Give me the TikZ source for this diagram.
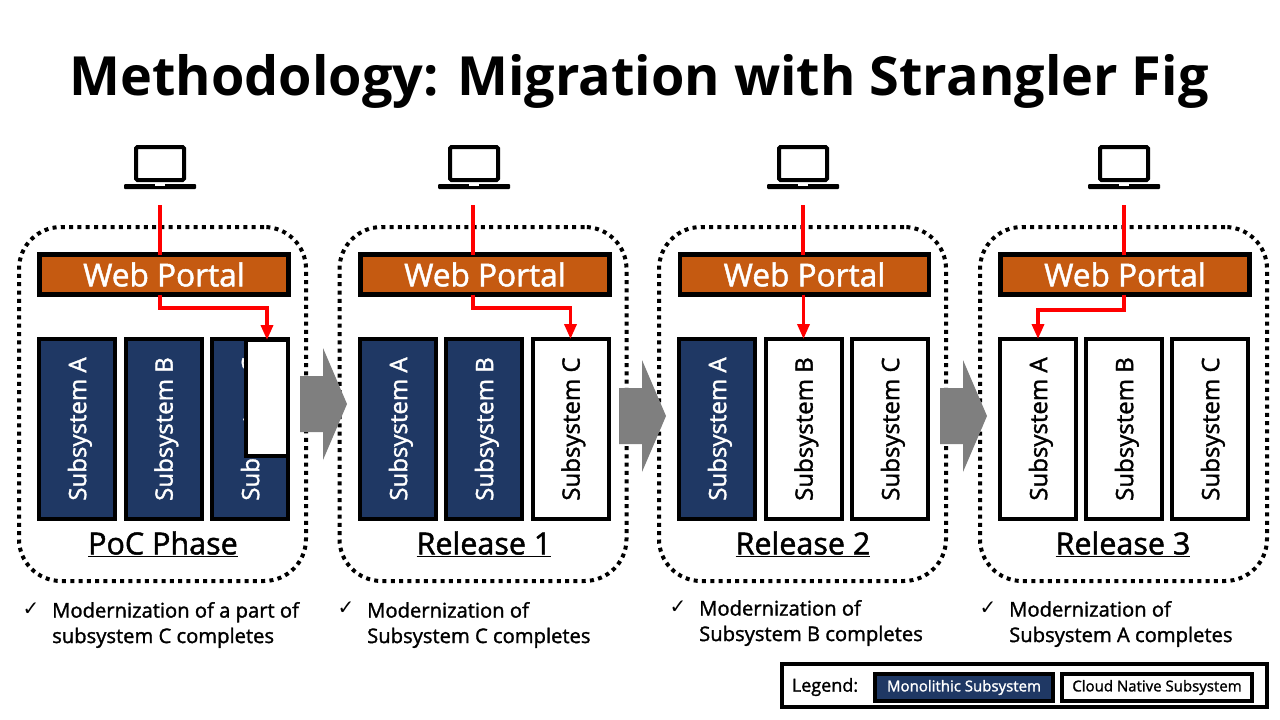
\documentclass[tikz,border=0pt]{standalone}
\usepackage{graphicx}
\usepackage{fontspec}
\setmainfont{Open Sans}
\newfontfamily\notefont[FakeBold=1.5]{Open Sans}
\newfontfamily\tickfont{DejaVu Sans}
\definecolor{monoblue}{HTML}{1F3864}
\definecolor{portalorange}{HTML}{C55A11}
\definecolor{stepgray}{HTML}{7F7F7F}
\newcommand{\subtext}[1]{\rotatebox{90}{\raisebox{0pt}[\height][0pt]{#1}}}
\tikzset{
	panel/.style={draw, line width=4pt, dash pattern=on 4pt off 4.3pt, rounded corners=42pt, minimum width=287pt, minimum height=354pt, outer sep=0pt},
	portal/.style={draw, line width=4.5pt, fill=portalorange, text=white, minimum width=249pt, minimum height=40pt, inner sep=0pt, outer sep=0pt, font=\notefont\fontsize{31.6}{31.6}\selectfont},
	mono/.style={draw, line width=4pt, fill=monoblue, text=white, minimum width=76pt, minimum height=180pt, inner sep=0pt, outer sep=0pt, font=\notefont\fontsize{24}{24}\selectfont},
	cloud/.style={mono, fill=white, text=black},
	phase/.style={font=\notefont\fontsize{30.5}{30.5}\selectfont},
	note/.style={anchor=west, align=left, inner sep=0pt, font=\notefont\fontsize{20.2}{25.5}\selectfont},
	tick/.style={inner sep=0pt, font=\tickfont\fontsize{20}{20}\selectfont},
	flow/.style={draw=red, line width=3.5pt, -{Triangle[length=15pt,width=12pt]}},
	feed/.style={draw=red, line width=3.5pt},
	laptop/.pic={
		\draw[line width=4pt, rounded corners=1.5pt] (-24,-35) rectangle (24,-2);
		\fill[rounded corners=1pt] (-36,2) rectangle (36,7);
		\fill[white] (-5,2) rectangle (5,3.5);
	},
	steparrow/.pic={
		\fill[stepgray] (0,-28)--(23,-28)--(23,-56)--(47,0)--(23,56)--(23,28)--(0,28)--cycle;
	}
}
\usetikzlibrary{arrows.meta}
\begin{document}
\begin{tikzpicture}[x=1pt,y=-1pt]
	\useasboundingbox (0,0) rectangle (1280,720);
	\node (title) at (639,81) {\fontsize{54}{54}\selectfont\bfseries Methodology: Migration with Strangler Fig};
	% dotted frames
	\node[panel] (frame0) at (162.5,404) {};
	\node[panel] (frame1) at (483,404) {};
	\node[panel] (frame2) at (802.5,404) {};
	\node[panel] (frame3) at (1123.5,404) {};
	% laptops
	\pic at (160,182) {laptop};
	\pic at (474,182) {laptop};
	\pic at (803,182) {laptop};
	\pic at (1124,182) {laptop};
	\coordinate (user0) at (160,205);
	\coordinate (user1) at (473,205);
	\coordinate (user2) at (803,205);
	\coordinate (user3) at (1124,205);
	% portals
	\node[portal] (portal0) at (164,274.5) {Web Portal};
	\node[portal] (portal1) at (485,274.5) {Web Portal};
	\node[portal] (portal2) at (804.5,274.5) {Web Portal};
	\node[portal] (portal3) at (1125,274.5) {Web Portal};
	% PoC phase
	\node[mono] (subA0) at (77,429) {\subtext{Subsystem A}};
	\node[mono] (subB0) at (163.5,429) {\subtext{Subsystem B}};
	\node[mono] (subC0) at (250,429) {\subtext{Subsystem C}};
	\node[cloud, minimum width=42pt, minimum height=116pt] (part0) at (267,398) {};
	% release 1
	\node[mono] (subA1) at (398,429) {\subtext{Subsystem A}};
	\node[mono] (subB1) at (484,429) {\subtext{Subsystem B}};
	\node[cloud] (subC1) at (570.5,429) {\subtext{Subsystem C}};
	% release 2
	\node[mono] (subA2) at (717,429) {\subtext{Subsystem A}};
	\node[cloud] (subB2) at (803.5,429) {\subtext{Subsystem B}};
	\node[cloud] (subC2) at (890,429) {\subtext{Subsystem C}};
	% release 3
	\node[cloud] (subA3) at (1038,429) {\subtext{Subsystem A}};
	\node[cloud] (subB3) at (1124,429) {\subtext{Subsystem B}};
	\node[cloud] (subC3) at (1210,429) {\subtext{Subsystem C}};
	% red paths
	\draw[feed] (user0)--(user0 |- portal0.north);
	\draw[feed] (user1)--(user1 |- portal1.north);
	\draw[feed] (user2)--(user2 |- portal2.north);
	\draw[feed] (user3)--(user3 |- portal3.north);
	\draw[flow] (user0 |- portal0.south)|-(267,308)--(part0.north);
	\draw[flow] (user1 |- portal1.south)|-(570.5,308)--(subC1.north);
	\draw[flow] (subB2.north |- portal2.south)--(subB2.north);
	\draw[flow] (user3 |- portal3.south)|-(1038,310)--(subA3.north);
	% phase names
	\node[phase] (name0) at (163,544) {\underline{PoC Phase}};
	\node[phase] (name1) at (484,544) {\underline{Release 1}};
	\node[phase] (name2) at (803,544) {\underline{Release 2}};
	\node[phase] (name3) at (1123,544) {\underline{Release 3}};
	% block arrows
	\pic at (300,404) {steparrow};
	\pic at (619,416) {steparrow};
	\pic at (940,416) {steparrow};
	% notes
	\node[tick] (tick0) at (31,609) {✓};
	\node[note] (note0) at (52,625) {Modernization of a part of\\subsystem C completes};
	\node[tick] (tick1) at (346,608) {✓};
	\node[note] (note1) at (367,625) {Modernization of\\Subsystem C completes};
	\node[tick] (tick2) at (678,607) {✓};
	\node[note] (note2) at (699,623) {Modernization of\\Subsystem B completes};
	\node[tick] (tick3) at (988,608) {✓};
	\node[note] (note3) at (1009,624) {Modernization of\\Subsystem A completes};
	% legend
	\node[draw, line width=4pt, minimum width=485pt, minimum height=43pt, inner sep=0pt] (legend) at (1024.5,685.5) {};
	\node[font=\notefont\fontsize{18}{18}\selectfont] (legendname) at (825,687) {Legend:};
	\node[draw, line width=4pt, fill=monoblue, text=white, minimum width=178pt, minimum height=27pt, inner sep=0pt, font=\notefont\fontsize{15}{15}\selectfont] (legendmono) at (964,687.5) {Monolithic Subsystem};
	\node[draw, line width=4pt, minimum width=190pt, minimum height=27pt, inner sep=0pt, font=\notefont\fontsize{15}{15}\selectfont] (legendcloud) at (1157,687.5) {Cloud Native Subsystem};
\end{tikzpicture}
\end{document}
